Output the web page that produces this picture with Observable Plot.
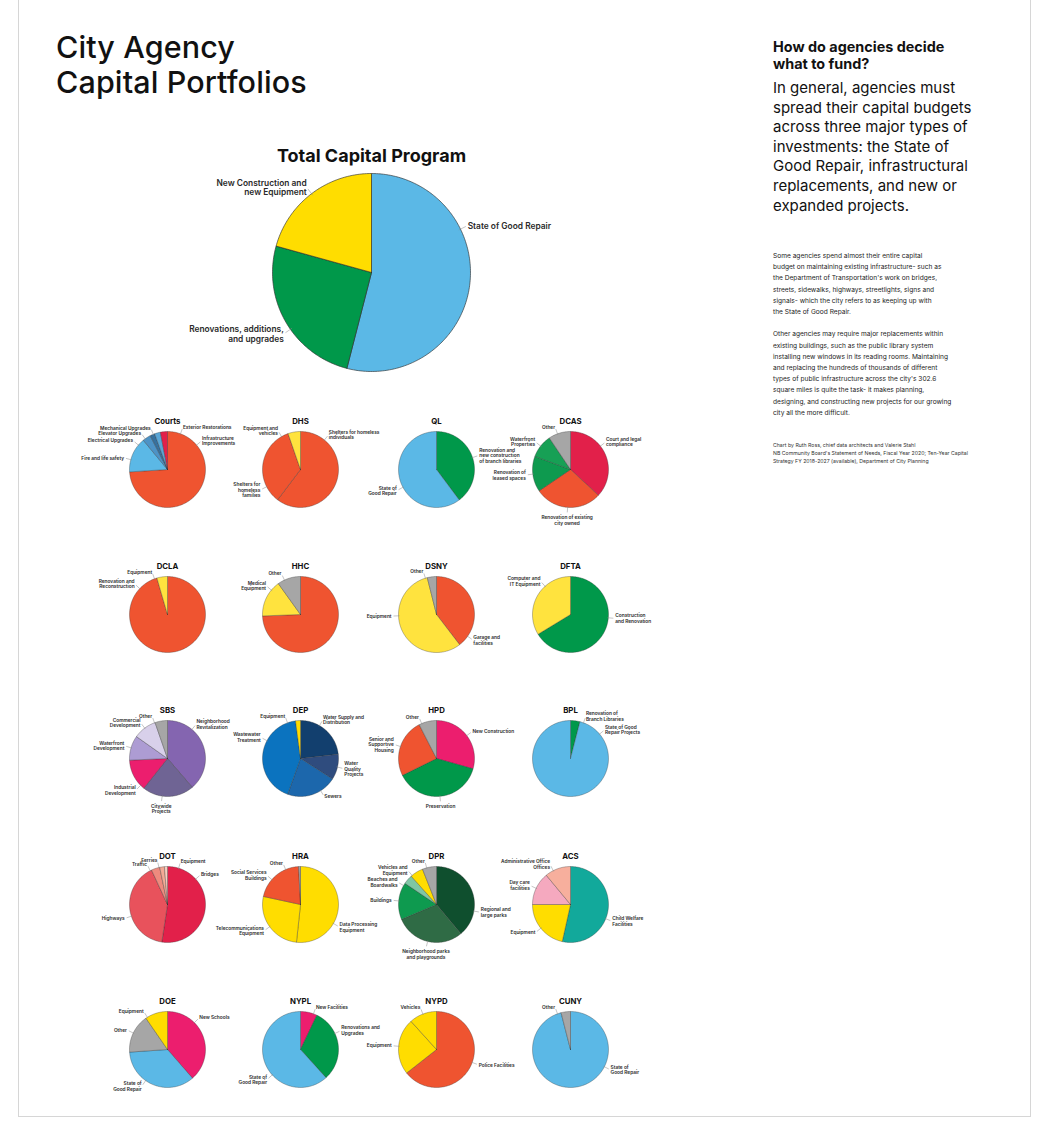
<!DOCTYPE html>
<html><head><meta charset="utf-8">
<script src="https://cdn.jsdelivr.net/npm/d3@7"></script>
<script src="https://cdn.jsdelivr.net/npm/@observablehq/plot@0.6"></script>
<style>
html,body{margin:0;padding:0;background:#fff;}
body{width:1041px;height:1128px;position:relative;overflow:hidden;font-family:Inter,"Noto Sans",sans-serif;color:#111;}
#frame{position:absolute;left:18px;top:-2px;width:1011px;height:1118px;border:1px solid #d6d6d6;border-top:none;}
#chart{position:absolute;left:0;top:0;}
#title{position:absolute;left:56px;top:29px;font-size:30.5px;font-weight:500;line-height:35px;letter-spacing:0.1px;margin:0;}
#side{position:absolute;left:773px;top:38px;width:260px;}
#side .q{font-size:14.4px;font-weight:700;line-height:17px;}
#side .lead{font-size:15px;font-weight:400;line-height:19.6px;margin-top:6px;}
.small{position:absolute;left:773px;font-size:6.6px;line-height:11.2px;color:#222;}
.credit{position:absolute;left:773px;top:441px;font-size:5.2px;line-height:8px;color:#333;}
</style></head>
<body>
<div id="frame"></div>
<div id="chart"></div>
<h1 id="title">City Agency<br>Capital Portfolios</h1>
<div id="side">
<div class="q">How do agencies decide<br>what to fund?</div>
<div class="lead">In general, agencies must<br>spread their capital budgets<br>across three major types of<br>investments: the State of<br>Good Repair, infrastructural<br>replacements, and new or<br>expanded projects.</div>
</div>
<div class="small" style="top:251px">Some agencies spend almost their entire capital<br>budget on maintaining existing infrastructure- such as<br>the Department of Transportation's work on bridges,<br>streets, sidewalks, highways, streetlights, signs and<br>signals- which the city refers to as keeping up with<br>the State of Good Repair.<br><br>Other agencies may require major replacements within<br>existing buildings, such as the public library system<br>installing new windows in its reading rooms. Maintaining<br>and replacing the hundreds of thousands of different<br>types of public infrastructure across the city's 302.6<br>square miles is quite the task- it makes planning,<br>designing, and constructing new projects for our growing<br>city all the more difficult.</div>
<div class="credit">Chart by Ruth Ross, chief data architects and Valerie Stahl<br>NB Community Board's Statement of Needs, Fiscal Year 2020; Ten-Year Capital<br>Strategy FY 2018-2027 (available), Department of City Planning</div>
<script>
// ---------------- DATA (shares of each capital portfolio, %) ----------------
const totalCategories = ["State of Good Repair", "Renovations, additions,\nand upgrades", "New Construction and\nnew Equipment"];
const totalValues = [54, 25.3, 20.7];

const agencyNames = ["Courts","DHS","QL","DCAS","DCLA","HHC","DSNY","DFTA","SBS","DEP","HPD","BPL","DOT","HRA","DPR","ACS","DOE","NYPL","NYPD","CUNY"];

const courtsCategories = ["Infrastructure\nImprovements","Fire and life safety","Electrical Upgrades","Elevator Upgrades","Mechanical Upgrades","Exterior Restorations"];
const courtsValues = [74, 15, 3.5, 2, 2.5, 3];
const dhsCategories = ["Shelters for homeless\nindividuals","Shelters for\nhomeless\nfamilies","Equipment and\nvehicles"];
const dhsValues = [60.3, 34.4, 5.3];
const qlCategories = ["Renovation and\nnew construction\nof branch libraries","State of\nGood Repair"];
const qlValues = [39.8, 60.2];
const dcasCategories = ["Court and legal\ncompliance","Renovation of existing\ncity owned","Renovation of\nleased spaces","Waterfront\nProperties","Other"];
const dcasValues = [36.9, 28.6, 15.1, 10, 9.4];
const dclaCategories = ["Renovation and\nReconstruction","Equipment"];
const dclaValues = [95.5, 4.5];
const hhcCategories = ["","Medical\nEquipment","Other"];
const hhcValues = [74.4, 15.7, 9.9];
const dsnyCategories = ["Garage and\nfacilities","Equipment","Other"];
const dsnyValues = [39.6, 56.5, 3.9];
const dftaCategories = ["Construction\nand Renovation","Computer and\nIT Equipment"];
const dftaValues = [66.3, 33.7];
const sbsCategories = ["Neighborhood\nRevitalization","Citywide\nProjects","Industrial\nDevelopment","Waterfront\nDevelopment","Commercial\nDevelopment","Other"];
const sbsValues = [38.7, 22, 13.6, 10.5, 9.9, 5.3];
const depCategories = ["Water Supply and\nDistribution","Water\nQuality\nProjects","Sewers","Wastewater\nTreatment","Equipment"];
const depValues = [23.2, 10.9, 21.4, 42.4, 2.1];
const hpdCategories = ["New Construction","Preservation","Senior and\nSupportive\nHousing","Other"];
const hpdValues = [29.4, 38.3, 24.8, 7.5];
const bplCategories = ["Renovation of\nBranch Libraries","State of Good\nRepair Projects"];
const bplValues = [4, 96];
const dotCategories = ["Bridges","Highways","Traffic","Ferries","Equipment"];
const dotValues = [52.4, 40.7, 3.6, 2.0, 1.3];
const hraCategories = ["Data Processing\nEquipment","Telecommunications\nEquipment","Social Services\nBuildings","Other"];
const hraValues = [51.7, 26.7, 20.8, 0.8];
const dprCategories = ["Regional and\nlarge parks","Neighborhood parks\nand playgrounds","Buildings","Beaches and\nBoardwalks","Vehicles and\nEquipment","Other"];
const dprValues = [38.9, 29.7, 15.8, 4, 5.6, 6];
const acsCategories = ["Child Welfare\nFacilities","Equipment","Day care\nfacilities","Administrative Office\nOffices"];
const acsValues = [53.5, 21.5, 14, 11];
const doeCategories = ["New Schools","State of\nGood Repair","Other","Equipment"];
const doeValues = [38.6, 35.3, 16.5, 9.6];
const nyplCategories = ["New Facilities","Renovations and\nUpgrades","State of\nGood Repair"];
const nyplValues = [7.1, 31.2, 61.7];
const nypdCategories = ["Police Facilities","Equipment","Vehicles"];
const nypdValues = [64.4, 23.9, 11.7];
const cunyCategories = ["State of\nGood Repair","Other"];
const cunyValues = [96, 4];

// ---------------- STYLE ----------------
const C = {blue:"#5BB8E6", green:"#00984A", yellow:"#FFDD00", lyellow:"#FFE33E", red:"#EF5430", crimson:"#E2204A", pink:"#EC1E6E", gray:"#A6A6A6"};
const colorsBy = {
  Total:[C.blue, C.green, C.yellow],
  Courts:[C.red, C.blue, "#4D93C6", "#37719E", "#5AA6D6", C.crimson],
  DHS:[C.red, C.red, C.lyellow],
  QL:[C.green, C.blue],
  DCAS:[C.crimson, C.red, "#0E9A4F", "#17A055", C.gray],
  DCLA:[C.red, C.lyellow],
  HHC:[C.red, C.lyellow, C.gray],
  DSNY:[C.red, C.lyellow, C.gray],
  DFTA:[C.green, C.lyellow],
  SBS:["#8465B0", "#6F6494", C.pink, "#AD9CD3", "#D8D0EA", C.gray],
  DEP:["#123F6E", "#2F4C7E", "#1C67AC", "#0B73BF", C.yellow],
  HPD:[C.pink, C.green, C.red, C.gray],
  BPL:[C.green, C.blue],
  DOT:[C.crimson, "#E8525C", "#EE8A7E", "#F3A995", "#F8CFC0"],
  HRA:[C.yellow, C.yellow, C.red, C.gray],
  DPR:["#0F4F2E", "#2F6B45", "#0E9A4F", "#7FC6A4", C.yellow, C.gray],
  ACS:["#12A99B", C.yellow, "#F5A9BF", "#F7AF9D"],
  DOE:[C.pink, C.blue, C.gray, C.yellow],
  NYPL:[C.pink, C.green, C.blue],
  NYPD:[C.red, C.yellow, C.yellow],
  CUNY:[C.blue, C.gray]
};
// label angle (degrees clockwise from 12 o'clock), null = slice middle
const labelAt = {
  Total:[64, 235, null],
  Courts:[50, 285, 310, 324, 338, 20],
  DHS:[39, 243, 330], QL:[null, 242], DCAS:[52, null, null, null, 340],
  DCLA:[313, 340], HHC:[null, 310, 335], DSNY:[125, 268, 343], DFTA:[95, 318],
  SBS:[40, 188, 225, null, null, 340], DEP:[30, null, 148, 298, 340],
  HPD:[null, null, null, 337], BPL:[20, 50], DOT:[48, 252, 333, 347, 17],
  HRA:[120, null, 311, 337], DPR:[100, null, null, 300, 320, 345],
  ACS:[112, null, null, 333], DOE:[45, 215, null, 328], NYPL:[20, 65, 228],
  NYPD:[110, null, null], CUNY:[117, 340]
};

// ---------------- LAYOUT ----------------
const W = 1041, H = 1128;
const big = {cx: 371, cy: 272, r: 99};
const colX = [167, 300, 436, 570];
const rowY = [469, 614, 758, 904, 1049];
const smallR = 38;

const dataBy = {
  Total:[totalCategories, totalValues],
  Courts:[courtsCategories, courtsValues], DHS:[dhsCategories, dhsValues], QL:[qlCategories, qlValues], DCAS:[dcasCategories, dcasValues],
  DCLA:[dclaCategories, dclaValues], HHC:[hhcCategories, hhcValues], DSNY:[dsnyCategories, dsnyValues], DFTA:[dftaCategories, dftaValues],
  SBS:[sbsCategories, sbsValues], DEP:[depCategories, depValues], HPD:[hpdCategories, hpdValues], BPL:[bplCategories, bplValues],
  DOT:[dotCategories, dotValues], HRA:[hraCategories, hraValues], DPR:[dprCategories, dprValues], ACS:[acsCategories, acsValues],
  DOE:[doeCategories, doeValues], NYPL:[nyplCategories, nyplValues], NYPD:[nypdCategories, nypdValues], CUNY:[cunyCategories, cunyValues]
};

const pies = [{name:"Total", title:"Total Capital Program", cx:big.cx, cy:big.cy, r:big.r, big:true}]
  .concat(agencyNames.map((n, i) => ({name:n, title:n, cx:colX[i % 4], cy:rowY[Math.floor(i / 4)], r:smallR, big:false})));

const slicePts = [], leaders = [], labels = [], titles = [];
for (const p of pies) {
  const [cats, vals] = dataBy[p.name];
  const arcs = d3.pie().sort(null).value(d => d)(vals);
  titles.push({x: p.cx, y: p.cy - (p.big ? 116 : 48), text: p.title, big: p.big});
  arcs.forEach((a, j) => {
    const key = p.name + "|" + j, color = colorsBy[p.name][j];
    const n = Math.max(2, Math.ceil((a.endAngle - a.startAngle) / (Math.PI / 180)));
    slicePts.push({key, x: p.cx, y: p.cy, color, big: p.big});
    for (let k = 0; k <= n; k++) {
      const t = a.startAngle + (a.endAngle - a.startAngle) * k / n;
      slicePts.push({key, x: p.cx + p.r * Math.sin(t), y: p.cy - p.r * Math.cos(t), color, big: p.big});
    }
    slicePts.push({key, x: p.cx, y: p.cy, color, big: p.big});
    if (!cats[j]) return;
    const ov = labelAt[p.name][j];
    const deg = ov == null ? (a.startAngle + a.endAngle) / 2 * 180 / Math.PI : ov;
    const t = deg * Math.PI / 180, s = Math.sin(t), c = Math.cos(t);
    const gap = p.big ? 2 : 1;
    const r0 = p.r - gap, r1 = p.r + (p.big ? 6 : 5), rt = p.r + (p.big ? 8 : 7);
    leaders.push({x1: p.cx + r0 * s, y1: p.cy - r0 * c, x2: p.cx + r1 * s, y2: p.cy - r1 * c});
    let anchor = c < -0.93 ? "middle" : (s >= 0 ? "start" : "end");
    labels.push({x: p.cx + rt * s, y: p.cy - rt * c + (anchor === "middle" ? 1 : 0), text: cats[j], anchor, big: p.big});
  });
}

function labelMarks(isBig) {
  const fs = isBig ? 8.4 : 4.8;
  return ["start", "end", "middle"].map(an => Plot.text(labels.filter(d => d.big === isBig && d.anchor === an), {
    x: "x", y: "y", text: "text", textAnchor: an, lineAnchor: an === "middle" ? "top" : "middle",
    fontSize: fs, fontWeight: 600, lineHeight: 1.15, fill: "#2a2a2a"
  }));
}

const chart = Plot.plot({
  width: W, height: H, margin: 0,
  x: {domain: [0, W], range: [0, W], axis: null},
  y: {domain: [0, H], range: [0, H], axis: null},
  color: {type: "identity"},
  style: {background: "transparent", fontFamily: "Inter, 'Noto Sans', sans-serif"},
  marks: [
    Plot.line(slicePts.filter(d => d.big), {x: "x", y: "y", z: "key", fill: "color", stroke: "#2d2d2d", strokeOpacity: 0.7, strokeWidth: 0.9, curve: "linear"}),
    Plot.line(slicePts.filter(d => !d.big), {x: "x", y: "y", z: "key", fill: "color", stroke: "#2d2d2d", strokeOpacity: 0.55, strokeWidth: 0.6, curve: "linear"}),
    Plot.link(leaders, {x1: "x1", y1: "y1", x2: "x2", y2: "y2", stroke: "#8a8a8a", strokeWidth: 0.5}),
    ...labelMarks(true),
    ...labelMarks(false),
    Plot.text(titles.filter(d => d.big), {x: "x", y: "y", text: "text", fontSize: 18, fontWeight: 700, fill: "#111"}),
    Plot.text(titles.filter(d => !d.big), {x: "x", y: "y", text: "text", fontSize: 7.8, fontWeight: 700, fill: "#111"})
  ]
});
document.getElementById("chart").appendChild(chart);
</script>
</body></html>
